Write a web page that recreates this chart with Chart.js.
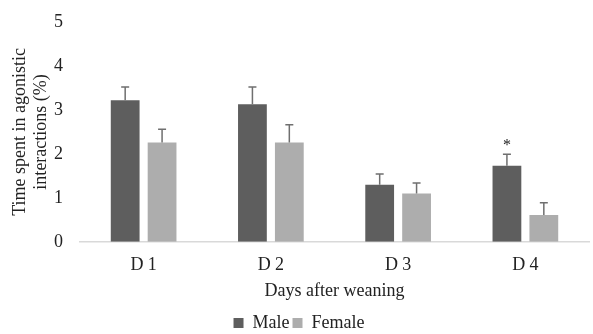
<!DOCTYPE html>
<html>
<head>
<meta charset="utf-8">
<script src="https://cdn.jsdelivr.net/npm/chart.js@4"></script>
<style>
  html, body { margin: 0; padding: 0; background: #fff; }
  #wrap { width: 593px; height: 334px; }
</style>
</head>
<body>
<div id="wrap"><canvas id="c"></canvas></div>
<script>
const days = ['D 1', 'D 2', 'D 3', 'D 4']
const male = [3.22, 3.13, 1.30, 1.73]
const female = [2.26, 2.26, 1.10, 0.61]
const maleErr = [0.30, 0.39, 0.24, 0.26]
const femaleErr = [0.30, 0.40, 0.24, 0.28]
const maleMarks = ['', '', '', '*']

const font = { family: 'Liberation Serif', size: 18 }

// error bars + significance star, drawn through the scales
const errorBars = {
  id: 'errorBars',
  afterDatasetsDraw (chart) {
    const ctx = chart.ctx
    const y = chart.scales.y
    const errs = [maleErr, femaleErr]
    chart.data.datasets.forEach((ds, i) => {
      const meta = chart.getDatasetMeta(i)
      meta.data.forEach((bar, j) => {
        const top = y.getPixelForValue(ds.data[j] + errs[i][j])
        ctx.save()
        ctx.strokeStyle = '#6f6f6f'
        ctx.lineWidth = 1.5
        ctx.beginPath()
        ctx.moveTo(bar.x, bar.y)
        ctx.lineTo(bar.x, top)
        ctx.moveTo(bar.x - 4, top)
        ctx.lineTo(bar.x + 4, top)
        ctx.stroke()
        if (i === 0 && maleMarks[j]) {
          ctx.fillStyle = '#222'
          ctx.font = '16px "Liberation Serif"'
          ctx.textAlign = 'center'
          ctx.textBaseline = 'bottom'
          ctx.fillText(maleMarks[j], bar.x, top - 1)
        }
        ctx.restore()
      })
    })
  }
}

new Chart(document.getElementById('c').getContext('2d'), {
  type: 'bar',
  data: {
    labels: days,
    datasets: [
      { label: 'Male', data: male, backgroundColor: '#5e5e5e', borderWidth: 0, categoryPercentage: 0.58, barPercentage: 0.78 },
      { label: 'Female', data: female, backgroundColor: '#adadad', borderWidth: 0, categoryPercentage: 0.58, barPercentage: 0.78 }
    ]
  },
  options: {
    responsive: true,
    maintainAspectRatio: false,
    animation: false,
    layout: { padding: { top: 22, right: 4, left: 9, bottom: -8 } },
    plugins: {
      legend: {
        position: 'bottom',
        labels: { font: font, color: '#222', boxWidth: 10, boxHeight: 10, padding: 3 }
      },
      tooltip: { enabled: false }
    },
    scales: {
      x: {
        grid: { display: false, drawTicks: false },
        border: { color: '#d9d9d9', width: 1.5 },
        ticks: { font: font, color: '#222', padding: 13 },
        title: { display: true, text: 'Days after weaning', font: font, color: '#222', padding: { top: -9, bottom: 9 } }
      },
      y: {
        min: 0,
        max: 5,
        grid: { display: false, drawTicks: false },
        border: { display: false },
        ticks: { stepSize: 1, font: font, color: '#222', padding: 17 },
        title: { display: true, text: ['Time spent in agonistic', 'interactions (%)'], font: font, color: '#222', padding: 0 },
        afterFit (scale) {
          scale.width = 71
          scale.paddingTop = 0
        }
      }
    }
  },
  plugins: [errorBars]
})
</script>
</body>
</html>
